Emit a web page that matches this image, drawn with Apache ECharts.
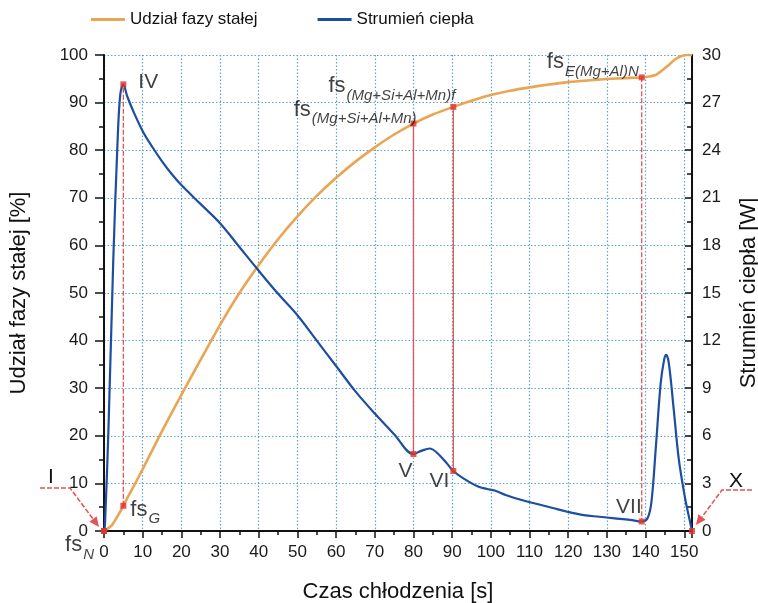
<!DOCTYPE html>
<html>
<head>
<meta charset="utf-8">
<script src="https://cdn.jsdelivr.net/npm/echarts@6/dist/echarts.min.js"></script>
<style>
  html, body { margin: 0; padding: 0; background: #fff; }
  #chart { width: 758px; height: 603px; }
</style>
</head>
<body>
<div id="chart"></div>
<script>
// Solid fraction during cooling (left axis, %)
const fsTime  = [0, 2, 4, 5, 6, 8, 10, 15, 20, 25, 30, 35, 40, 45, 50, 55, 60, 65, 70, 75, 80, 85, 90.3, 95, 100, 105, 110, 115, 120, 125, 130, 135, 139, 141, 142.6, 144, 146, 147.5, 149, 150.5, 152];
const fsValue = [0, 1.2, 3.8, 5.3, 6.9, 9.9, 13.0, 21.0, 28.6, 36.0, 43.3, 50.0, 55.9, 61.3, 66.1, 70.4, 74.2, 77.6, 80.6, 83.3, 85.6, 87.5, 89.1, 90.4, 91.6, 92.5, 93.2, 93.8, 94.3, 94.65, 94.95, 95.15, 95.3, 95.5, 95.8, 96.6, 97.9, 99.0, 99.7, 100, 100];

// Heat flow during cooling (right axis, W)
const qTime  = [0, 0.25, 1.2, 2.4, 3.5, 4.2, 5, 6, 7.5, 10, 12.5, 15, 17.5, 20, 25, 30, 35, 40, 45, 50, 55, 60, 65, 70, 75, 80, 82, 84.2, 86, 88.5, 90.3, 93, 96.7, 99, 101, 104, 108, 112, 116, 120, 124, 128, 132, 136, 139, 140.5, 141.5, 142.6, 143.9, 144.8, 145.3, 146, 147.3, 148.6, 150.3, 151.3, 152];
const qValue = [0, 0.4, 6.8, 17.1, 24.5, 27.5, 28.15, 27.4, 26.5, 25.2, 24.2, 23.3, 22.5, 21.8, 20.6, 19.4, 17.9, 16.4, 14.95, 13.6, 12.0, 10.4, 8.8, 7.4, 6.1, 4.85, 5.05, 5.2, 4.95, 4.3, 3.78, 3.3, 2.8, 2.65, 2.55, 2.25, 1.95, 1.7, 1.45, 1.2, 1.0, 0.9, 0.8, 0.7, 0.6, 0.8, 1.8, 5.1, 9.3, 10.8, 11.1, 10.6, 7.6, 4.5, 1.95, 0.8, 0];

// Characteristic points on the solid fraction curve
const fsPointTime  = [0, 5, 80, 90.3, 139];
const fsPointValue = [0, 5.3, 85.6, 89.1, 95.3];
const fsPointSub   = ['N', 'G', '(Mg+Si+Al+Mn)', '(Mg+Si+Al+Mn)f', 'E(Mg+Al)N'];

// Characteristic points on the heat flow curve
const qPointTime  = [0, 5, 80, 90.3, 139, 152];
const qPointValue = [0, 28.15, 4.85, 3.78, 0.6, 0];
const qPointName  = ['I', 'IV', 'V', 'VI', 'VII', 'X'];

// Axis ranges [min, max, interval]
const timeRange = [0, 152, 10];
const fsRange   = [0, 100, 10];
const qRange    = [0, 30, 3];

const legendNames = ['Udział fazy stałej', 'Strumień ciepła'];
const axisNames   = ['Czas chłodzenia [s]', 'Udział fazy stałej [%]', 'Strumień ciepła [W]'];

const FONT = "'Liberation Sans', Arial, sans-serif";
const ORANGE = '#E9A553';
const BLUE = '#1D4E9F';
const RED = '#E0332B';
const REDLINE = '#E05555';
const GRIDLINE = '#5FA3D3';

const labelPlace = {
  'N':               { align: 'right', verticalAlign: 'top',    offset: [-10, 3] },
  'G':               { align: 'left',  verticalAlign: 'top',    offset: [7, -7] },
  '(Mg+Si+Al+Mn)':   { align: 'right', verticalAlign: 'bottom', offset: [3, -2] },
  '(Mg+Si+Al+Mn)f':  { align: 'right', verticalAlign: 'bottom', offset: [2, -9] },
  'E(Mg+Al)N':       { align: 'right', verticalAlign: 'bottom', offset: [-3, -3] },
  'IV':  { align: 'left',  verticalAlign: 'middle', offset: [15, -2] },
  'V':   { align: 'right', verticalAlign: 'top',    offset: [-1, 7] },
  'VI':  { align: 'right', verticalAlign: 'top',    offset: [-4, 0] },
  'VII': { align: 'right', verticalAlign: 'bottom', offset: [0, -4] }
};

const fsRich = {
  fs:  { fontFamily: FONT, fontSize: 22, color: '#111', lineHeight: 23, verticalAlign: 'top' },
  sub: { fontFamily: FONT, fontSize: 15, fontStyle: 'italic', color: '#111', lineHeight: 15, padding: [13, 0, 0, 1], verticalAlign: 'top' }
};

const zip = (a, b) => a.map((v, i) => [v, b[i]]);
const qToFs = v => v * (fsRange[1] - fsRange[0]) / (qRange[1] - qRange[0]);

// Vertical connectors between matching points of the two curves
const connectors = [1, 2, 3, 4].map(i => ({
  type: 'line',
  yAxisIndex: 0,
  data: [[fsPointTime[i], fsPointValue[i]], [qPointTime[i], qToFs(qPointValue[i])]],
  symbol: 'none',
  silent: true,
  z: 3,
  lineStyle: {
    color: REDLINE,
    width: 1.3,
    type: (qPointName[i] === 'IV' || qPointName[i] === 'VII') ? [5, 2] : 'solid'
  }
}));

const fsPoints = fsPointTime.map((t, i) => {
  const p = labelPlace[fsPointSub[i]];
  return {
    value: [t, fsPointValue[i]],
    label: {
      show: true, position: 'inside',
      align: p.align, verticalAlign: p.verticalAlign, offset: p.offset,
      formatter: '{fs|fs}{sub|' + fsPointSub[i] + '}',
      rich: fsRich
    }
  };
});

const qPoints = qPointTime.map((t, i) => {
  const p = labelPlace[qPointName[i]];
  return {
    value: [t, qPointValue[i]],
    label: p ? {
      show: true, position: 'inside',
      align: p.align, verticalAlign: p.verticalAlign, offset: p.offset,
      formatter: qPointName[i],
      fontFamily: FONT, fontSize: 21, color: '#111'
    } : { show: false }
  };
});

const chart = echarts.init(document.getElementById('chart'), null, { renderer: 'canvas' });

const axisText = { fontFamily: FONT, fontSize: 17, color: '#1a1a1a' };
const nameText = { fontFamily: FONT, fontSize: 22, color: '#111' };

chart.setOption({
  animation: false,
  backgroundColor: '#fff',
  legend: {
    data: legendNames,
    left: 86, top: 6,
    icon: 'rect',
    itemWidth: 34, itemHeight: 3, itemGap: 60,
    textStyle: { fontFamily: FONT, fontSize: 17, color: '#111' }
  },
  grid: { left: 104, right: 66, top: 55, bottom: 72, containLabel: false, outerBoundsMode: 'none' },
  xAxis: {
    type: 'value',
    min: timeRange[0], max: timeRange[1], interval: timeRange[2],
    name: axisNames[0], nameLocation: 'middle', nameGap: 50,
    nameTextStyle: nameText,
    axisLine: { show: true, onZero: false, lineStyle: { color: '#111', width: 2 } },
    axisTick: { show: true, length: 7, lineStyle: { color: '#111', width: 1.5 } },
    minorTick: { show: true, splitNumber: 2, length: 4, lineStyle: { color: '#111', width: 1.5 } },
    axisLabel: {
      ...axisText, margin: 13,
      formatter: v => (v % timeRange[2] === 0 ? String(v) : '')
    },
    splitLine: { show: true, lineStyle: { color: GRIDLINE, type: [1.5, 2], width: 1.2 } }
  },
  yAxis: [
    {
      type: 'value',
      min: fsRange[0], max: fsRange[1], interval: fsRange[2],
      position: 'left',
      name: axisNames[1], nameLocation: 'middle', nameGap: 74, nameRotate: 90,
      nameTextStyle: nameText,
      axisLine: { show: true, lineStyle: { color: '#111', width: 2 } },
      axisTick: { show: true, length: 9, lineStyle: { color: '#111', width: 1.5 } },
      minorTick: { show: true, splitNumber: 2, length: 5, lineStyle: { color: '#111', width: 1.5 } },
      axisLabel: { ...axisText, margin: 16 },
      splitLine: { show: true, lineStyle: { color: GRIDLINE, type: [1.5, 2], width: 1.2 } }
    },
    {
      type: 'value',
      min: qRange[0], max: qRange[1], interval: qRange[2],
      position: 'right',
      name: axisNames[2], nameLocation: 'middle', nameGap: 46, nameRotate: 90,
      nameTextStyle: nameText,
      axisLine: { show: true, lineStyle: { color: '#111', width: 2 } },
      axisTick: { show: true, inside: true, length: 7, lineStyle: { color: '#111', width: 1.5 } },
      minorTick: { show: true, splitNumber: 2, length: 5, lineStyle: { color: '#111', width: 1.5 } },
      axisLabel: { ...axisText, margin: 10 },
      splitLine: { show: false }
    }
  ],
  series: [
    {
      name: legendNames[0], type: 'line', yAxisIndex: 0,
      data: zip(fsTime, fsValue),
      smooth: 0.2, symbol: 'none', z: 2,
      lineStyle: { color: ORANGE, width: 2.6 },
      itemStyle: { color: ORANGE }
    },
    {
      name: legendNames[1], type: 'line', yAxisIndex: 1,
      data: zip(qTime, qValue),
      smooth: 0.35, symbol: 'none', z: 2,
      lineStyle: { color: BLUE, width: 2.2 },
      itemStyle: { color: BLUE }
    },
    ...connectors,
    {
      type: 'scatter', yAxisIndex: 0, data: fsPoints,
      symbol: 'rect', symbolSize: 6, z: 5, silent: true,
      itemStyle: { color: RED }
    },
    {
      type: 'scatter', yAxisIndex: 1, data: qPoints,
      symbol: 'rect', symbolSize: 6, z: 5, silent: true,
      itemStyle: { color: RED }
    }
  ]
});

// Callout arrows for the start (I) and end (X) of solidification
function callout(anchor, path, text, textPos) {
  const pts = path.map(d => [anchor[0] + d[0], anchor[1] + d[1]]);
  const tip = pts[pts.length - 1];
  const prev = pts[pts.length - 2];
  const dx = tip[0] - prev[0], dy = tip[1] - prev[1];
  const len = Math.hypot(dx, dy);
  const ux = dx / len, uy = dy / len;
  const head = 10, half = 4.5;
  const bx = tip[0] - ux * head, by = tip[1] - uy * head;
  return [
    {
      type: 'polyline', silent: true, z: 10,
      shape: { points: pts.slice(0, -1).concat([[bx, by]]) },
      style: { stroke: REDLINE, lineWidth: 1.6, fill: null, lineDash: [5, 2] }
    },
    {
      type: 'polygon', silent: true, z: 10,
      shape: { points: [tip, [bx - uy * half, by + ux * half], [bx + uy * half, by - ux * half]] },
      style: { fill: REDLINE }
    },
    {
      type: 'text', silent: true, z: 10,
      x: anchor[0] + textPos[0], y: anchor[1] + textPos[1],
      style: { text: text, font: '21px ' + FONT, fill: '#111', align: 'center', verticalAlign: 'middle' }
    }
  ];
}

const startPx = chart.convertToPixel({ xAxisIndex: 0, yAxisIndex: 1 }, [qPointTime[0], qPointValue[0]]);
const endPx = chart.convertToPixel({ xAxisIndex: 0, yAxisIndex: 1 }, [qPointTime[5], qPointValue[5]]);

chart.setOption({
  graphic: [
    ...callout(startPx, [[-64, -43], [-34, -43], [-5, -4]], qPointName[0], [-53, -54]),
    ...callout(endPx, [[60, -41], [30, -41], [4, -6]], qPointName[5], [44, -50])
  ]
});
</script>
</body>
</html>
